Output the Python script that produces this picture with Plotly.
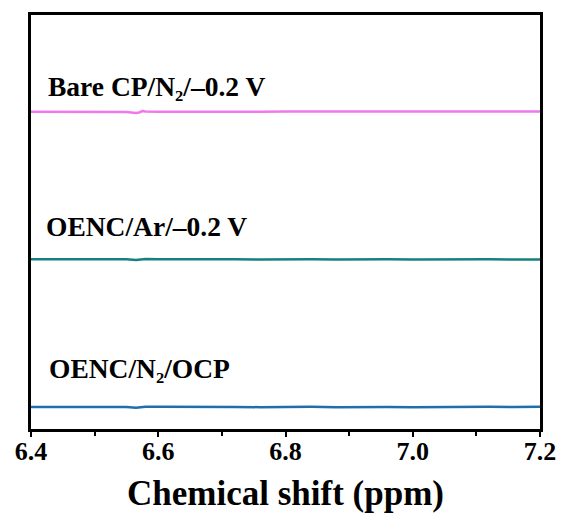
import plotly.graph_objects as go

# Chemical shift (ppm)
shift = [6.40, 6.44, 6.48, 6.52, 6.55, 6.565, 6.57, 6.575, 6.58, 6.60, 6.64, 6.68,
         6.72, 6.76, 6.80, 6.84, 6.88, 6.92, 6.96, 7.00, 7.04, 7.08, 7.12, 7.16, 7.20]

# Signal (stacked offset already applied)
ocp = [0.000, 0.001, -0.001, 0.001, 0.000, -0.005, -0.002, 0.004, 0.002, 0.001, -0.001, 0.001,
       0.000, -0.001, 0.001, 0.001, -0.001, 0.001, 0.000, -0.001, 0.001, -0.001, 0.001, 0.000, 0.001]
ar = [1.000, 1.001, 0.999, 1.001, 1.000, 0.996, 0.998, 1.003, 1.002, 1.001, 0.999, 1.001,
      1.000, 0.999, 1.001, 1.001, 0.999, 1.001, 1.000, 0.999, 1.001, 0.999, 1.000, 0.999, 0.999]
bare = [2.000, 1.999, 2.001, 1.999, 1.998, 1.992, 1.995, 2.004, 2.002, 2.000, 1.999, 2.001,
        2.000, 1.999, 2.001, 2.000, 1.999, 2.001, 2.000, 2.001, 2.001, 2.000, 2.002, 2.002, 2.002]

series = [
    ("OENC/N₂/OCP", ocp, "#1f6fae"),
    ("OENC/Ar/–0.2 V", ar, "#17807e"),
    ("Bare CP/N₂/–0.2 V", bare, "#ee78ec"),
]

label_pos = [(0.031, 0.147), (0.025, 0.488), (0.030, 0.8265)]

FONT = "Liberation Serif, Times New Roman, serif"

fig = go.Figure()
for (name, ys, col) in series:
    fig.add_trace(go.Scatter(x=shift, y=ys, mode="lines", name=name,
                             line=dict(color=col, width=2.5), showlegend=False))

for (name, ys, col), (px, py) in zip(series, label_pos):
    fig.add_annotation(text=name, xref="paper", yref="paper", x=px, y=py,
                       xanchor="left", yanchor="middle", showarrow=False,
                       font=dict(family=FONT, size=27.5, color="black", weight="bold"))

fig.update_layout(
    width=568, height=525,
    margin=dict(l=31, r=20, t=14, b=96),
    plot_bgcolor="white", paper_bgcolor="white",
    font=dict(family=FONT, color="black", weight="bold"),
)
fig.update_xaxes(
    range=[6.4, 7.2], tickvals=[6.4, 6.6, 6.8, 7.0, 7.2],
    ticktext=["6.4", "6.6", "6.8", "7.0", "7.2"],
    ticks="outside", ticklen=5, tickwidth=2, tickcolor="black",
    minor=dict(tickvals=[6.5, 6.7, 6.9, 7.1], ticks="outside", ticklen=4, tickwidth=2, tickcolor="black"),
    showline=True, linewidth=2.5, linecolor="black", mirror=True,
    showgrid=False, zeroline=False, ticklabelstandoff=-8,
    tickfont=dict(family=FONT, size=26, color="black", weight="bold"),
    title=dict(text="Chemical shift (ppm)", standoff=16,
               font=dict(family=FONT, size=35, color="black", weight="bold")),
)
fig.update_yaxes(
    range=[-0.149, 2.655], showticklabels=False, ticks="",
    showline=True, linewidth=2.5, linecolor="black", mirror=True,
    showgrid=False, zeroline=False,
)

fig.write_html("out.html")
